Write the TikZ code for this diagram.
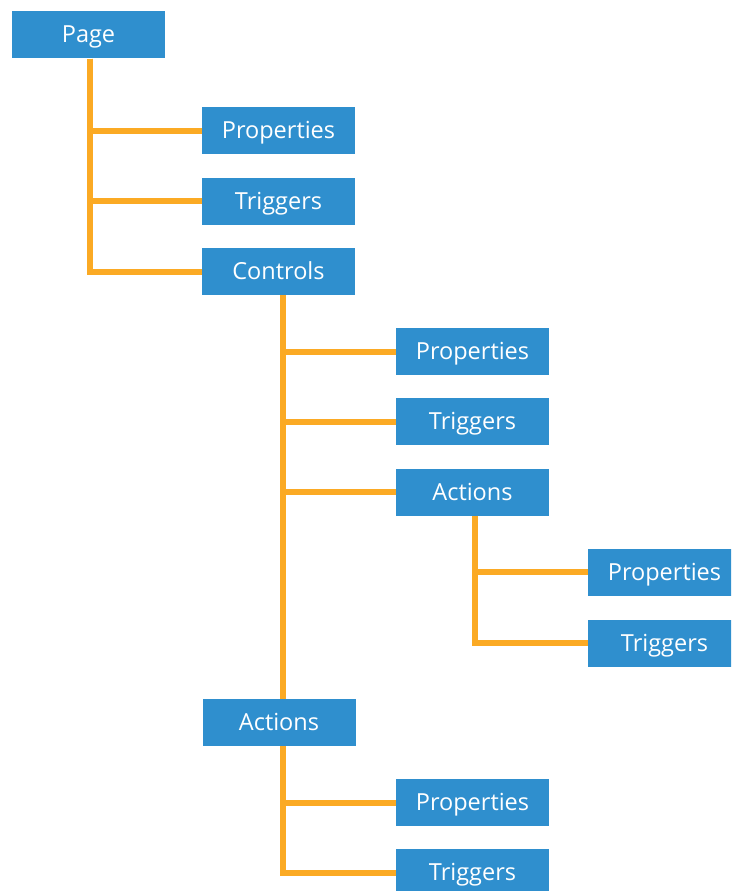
\documentclass[tikz,border=0pt]{standalone}
\usepackage{fontspec}
\setmainfont{Open Sans}
\usetikzlibrary{calc}

\definecolor{boxblue}{RGB}{47,143,206}
\definecolor{linkorange}{RGB}{251,170,36}

\begin{document}
\begin{tikzpicture}[x=1pt, y=-1pt,
    item/.style={fill=boxblue, text=white, minimum width=153pt, minimum height=47pt,
        inner sep=0pt, text height=19pt, text depth=3pt,
        font=\fontsize{23.5}{25}\selectfont},
    link/.style={linkorange, line width=6pt}]
    % canvas, cut at the page edges like the original
    \useasboundingbox (0,0) rectangle (731,891);
    \clip (0,0) rectangle (731,891);

    % top level
    \node[item] (page) at (88.5,35) {Page};

    % children of the page
    \node[item] (pageprops) at (278.5,130.5) {Properties};
    \node[item] (pagetrig)  at (278.5,201)   {Triggers};
    \node[item] (controls)  at (278.5,271.5) {Controls};

    % children of the controls
    \node[item] (ctrlprops) at (472.5,351.5) {Properties};
    \node[item] (ctrltrig)  at (472.5,421.5) {Triggers};
    \node[item] (ctrlact)   at (472.5,492)   {Actions};

    % children of the control actions
    \node[item] (actprops) at (664.5,572) {Properties};
    \node[item] (acttrig)  at (664.5,643) {Triggers};

    % page actions and their children
    \node[item] (pageact)     at (279,722.5)   {Actions};
    \node[item] (pageactprops) at (472.5,802.5) {Properties};
    \node[item] (pageacttrig)  at (472.5,872.5) {Triggers};

    % connectors
    \draw[link] ([xshift=1.5pt]page.south) |- (pageprops.west);
    \draw[link] ([xshift=1.5pt]page.south) |- (pagetrig.west);
    \draw[link] ([xshift=1.5pt]page.south) |- (controls.west);

    \draw[link] ([xshift=4.5pt]controls.south) |- (ctrlprops.west);
    \draw[link] ([xshift=4.5pt]controls.south) |- (ctrltrig.west);
    \draw[link] ([xshift=4.5pt]controls.south) |- (ctrlact.west);
    \draw[link] ([xshift=4.5pt]controls.south) -- ([xshift=4pt]pageact.north);

    \draw[link] ([xshift=2.5pt]ctrlact.south) |- (actprops.west);
    \draw[link] ([xshift=2.5pt]ctrlact.south) |- (acttrig.west);

    \draw[link] ([xshift=4pt]pageact.south) |- (pageactprops.west);
    \draw[link] ([xshift=4pt]pageact.south) |- (pageacttrig.west);

\end{tikzpicture}
\end{document}
